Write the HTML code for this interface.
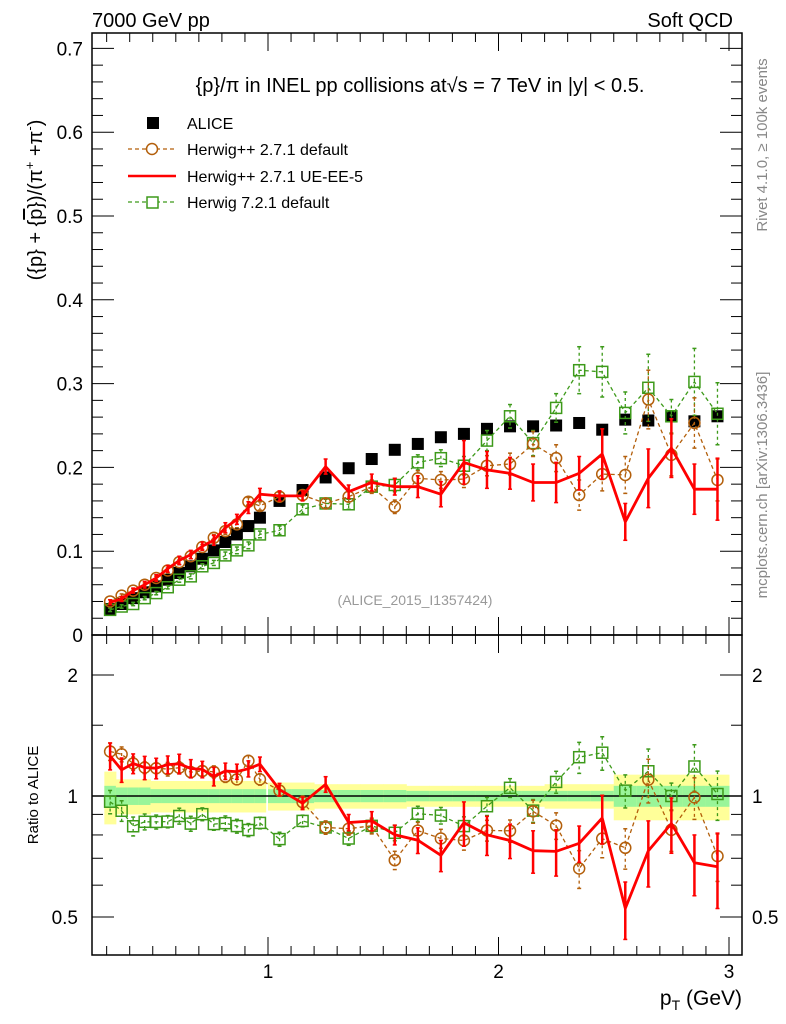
<!DOCTYPE html>
<html><head><meta charset="utf-8">
<style>
html,body{margin:0;padding:0;background:#fff;}
svg{display:block;font-family:"Liberation Sans",sans-serif;}
</style></head>
<body>
<svg id="chart" width="786" height="1024" viewBox="0 0 786 1024" xmlns="http://www.w3.org/2000/svg">
<text x="92" y="27" font-size="20">7000 GeV pp</text>
<text x="733" y="27" font-size="20" text-anchor="end">Soft QCD</text>
<text x="420" y="92" font-size="20" text-anchor="middle">{p}/π in INEL pp collisions at√s =  7 TeV in |y| &lt; 0.5.</text>
<text x="415" y="605" font-size="14" fill="#999" text-anchor="middle">(ALICE_2015_I1357424)</text>
<text transform="translate(767,145) rotate(-90)" font-size="15" fill="#888" text-anchor="middle">Rivet 4.1.0, ≥ 100k events</text>
<text transform="translate(767,485) rotate(-90)" font-size="15" fill="#888" text-anchor="middle">mcplots.cern.ch [arXiv:1306.3436]</text>
<text transform="translate(42,200) rotate(-90)" font-size="20" text-anchor="middle">({p} + {<tspan text-decoration="overline">p</tspan>})/(π<tspan font-size="13" dy="-8">+</tspan><tspan dy="8"> +π</tspan><tspan font-size="13" dy="-8">-</tspan><tspan dy="8">)</tspan></text>
<text transform="translate(38,795) rotate(-90)" font-size="15" text-anchor="middle">Ratio to ALICE</text>
<text x="742" y="1005" font-size="21" text-anchor="end">p<tspan font-size="14" dy="5">T</tspan><tspan dy="-5"> (GeV)</tspan></text>
<g id="legend">
 <g><rect x="147" y="117" width="12" height="12" fill="#000"/><text x="187" y="129" font-size="16">ALICE</text></g>
 <g><line x1="128" y1="149" x2="176" y2="149" stroke="#b35f0b" stroke-width="1.3" stroke-dasharray="4,3"/><circle cx="152" cy="149" r="5.5" fill="#fff" stroke="#b35f0b" stroke-width="1.5"/><text x="187" y="155" font-size="16">Herwig++ 2.7.1 default</text></g>
 <g><line x1="128" y1="176" x2="176" y2="176" stroke="#f00" stroke-width="2.5"/><text x="187" y="182" font-size="16">Herwig++ 2.7.1 UE-EE-5</text></g>
 <g><line x1="128" y1="202" x2="176" y2="202" stroke="#3d9a1a" stroke-width="1.3" stroke-dasharray="4,3"/><rect x="147" y="197" width="11" height="11" fill="#fff" stroke="#3d9a1a" stroke-width="1.5"/><text x="187" y="208" font-size="16">Herwig 7.2.1 default</text></g>
</g>
<g id="plots"></g>
</svg>
<script>
const xs=[0.315,0.365,0.415,0.465,0.515,0.565,0.615,0.665,0.715,0.765,0.815,0.865,0.915,0.965,1.05,1.15,1.25,1.35,1.45,1.55,1.65,1.75,1.85,1.95,2.05,2.15,2.25,2.35,2.45,2.55,2.65,2.75,2.85,2.95];
const alice=[0.031,0.037,0.044,0.051,0.058,0.066,0.074,0.082,0.091,0.101,0.111,0.120,0.130,0.140,0.160,0.173,0.188,0.199,0.210,0.221,0.228,0.236,0.240,0.246,0.249,0.249,0.250,0.253,0.245,0.257,0.256,0.261,0.255,0.261];
const aliceBandOuter=[0.15,0.10,0.10,0.10,0.09,0.09,0.09,0.09,0.09,0.09,0.09,0.09,0.09,0.09,0.08,0.08,0.07,0.07,0.07,0.07,0.06,0.06,0.06,0.06,0.06,0.06,0.07,0.07,0.07,0.13,0.13,0.13,0.13,0.13];
const aliceBandInner=[0.06,0.05,0.05,0.05,0.04,0.04,0.04,0.04,0.04,0.04,0.04,0.04,0.04,0.04,0.04,0.04,0.035,0.035,0.035,0.035,0.03,0.03,0.03,0.03,0.03,0.03,0.03,0.03,0.03,0.06,0.06,0.06,0.06,0.06];
const hppDef=[0.040,0.047,0.053,0.060,0.068,0.077,0.087,0.094,0.105,0.116,0.124,0.132,0.159,0.154,0.165,0.167,0.157,0.165,0.177,0.153,0.187,0.185,0.186,0.202,0.204,0.228,0.211,0.167,0.192,0.191,0.281,0.215,0.253,0.185];
const hppDefErr=[0.002,0.002,0.002,0.002,0.002,0.003,0.003,0.003,0.003,0.004,0.004,0.004,0.005,0.005,0.005,0.006,0.006,0.006,0.008,0.008,0.009,0.01,0.01,0.012,0.013,0.015,0.016,0.018,0.02,0.022,0.035,0.025,0.03,0.025];
const hppUE=[0.039,0.043,0.053,0.060,0.068,0.079,0.089,0.096,0.106,0.113,0.128,0.138,0.152,0.168,0.166,0.166,0.201,0.171,0.182,0.177,0.177,0.168,0.206,0.197,0.193,0.182,0.182,0.193,0.216,0.135,0.187,0.223,0.174,0.174];
const hppUEErr=[0.003,0.003,0.003,0.004,0.004,0.004,0.005,0.005,0.005,0.006,0.006,0.006,0.007,0.007,0.006,0.006,0.009,0.008,0.01,0.01,0.013,0.015,0.026,0.022,0.019,0.022,0.024,0.02,0.03,0.022,0.035,0.035,0.03,0.037];
const h7Def=[0.030,0.034,0.037,0.044,0.050,0.057,0.066,0.070,0.082,0.086,0.095,0.101,0.107,0.120,0.125,0.150,0.157,0.156,0.177,0.179,0.206,0.211,0.202,0.232,0.261,0.229,0.271,0.316,0.314,0.265,0.295,0.261,0.302,0.264];
const h7DefErr=[0.002,0.002,0.002,0.002,0.002,0.002,0.003,0.003,0.003,0.003,0.004,0.004,0.004,0.004,0.005,0.005,0.005,0.006,0.007,0.008,0.009,0.01,0.011,0.012,0.014,0.015,0.017,0.028,0.03,0.025,0.04,0.02,0.04,0.037];
const xTicks=[1,2,3];
const yTicks=[0,0.1,0.2,0.3,0.4,0.5,0.6,0.7];
const rTicks=[0.5,1,2];
</script>
<script>
const NS="http://www.w3.org/2000/svg";
const L=92,R=742,T=33,MB=635,RB=955;
const X=v=>268+(v-1)*230.5;
const Y=v=>635-v*838;
const RY=r=>796-Math.log2(r)*121;
const g=document.getElementById('plots');
function mk(tag,at,parent){const e=document.createElementNS(NS,tag);for(const k in at)e.setAttribute(k,at[k]);(parent||g).appendChild(e);return e;}
const clipM=mk('clipPath',{id:'cm'});mk('rect',{x:L,y:T,width:R-L,height:MB-T},clipM);
const clipR=mk('clipPath',{id:'cr'});mk('rect',{x:L,y:MB,width:R-L,height:RB-MB},clipR);
const lo=i=>i<14?xs[i]-0.025:xs[i]-0.05, hi=i=>i<14?xs[i]+0.025:xs[i]+0.05;
const bandG=mk('g',{'clip-path':'url(#cr)'});


xs.forEach((x,i)=>{
 const o=aliceBandOuter[i],n=aliceBandInner[i];
 mk('rect',{x:X(lo(i)),y:RY(1+o),width:X(hi(i))-X(lo(i))+0.5,height:RY(1-o)-RY(1+o),fill:'#ffff99'},bandG);
 mk('rect',{x:X(lo(i)),y:RY(1+n),width:X(hi(i))-X(lo(i))+0.5,height:RY(1-n)-RY(1+n),fill:'#99f599'},bandG);
});
mk('line',{x1:L,x2:R,y1:RY(1),y2:RY(1),stroke:'#000','stroke-width':1.5});
const fr1=mk('rect',{x:L,y:T,width:R-L,height:MB-T,fill:'none',stroke:'#000','stroke-width':1.5});


const fr2=mk('rect',{x:L,y:MB,width:R-L,height:RB-MB,fill:'none',stroke:'#000','stroke-width':1.5});


for(let k=3;k<=30;k++){const v=k/10,px=X(v);if(px<L||px>R)continue;const maj=k%10===0;const len=maj?18:9;
 [[MB,-1],[T,1],[RB,-1],[MB,1]].forEach(([y0,d])=>mk('line',{x1:px,x2:px,y1:y0,y2:y0+d*len,stroke:'#000','stroke-width':1}));}
xTicks.forEach(v=>{const t=mk('text',{x:X(v),y:978,'font-size':19,'text-anchor':'middle'});t.textContent=v;
 
 });
for(let k=0;k<=35;k++){const v=k*0.02,py=Y(v);if(py<T)continue;const maj=k%5===0;const len=maj?22:11;
 mk('line',{x1:L,x2:L+len,y1:py,y2:py,stroke:'#000'});mk('line',{x1:R,x2:R-len,y1:py,y2:py,stroke:'#000'});}
yTicks.forEach(v=>{const t=mk('text',{x:83,y:Y(v)+7,'font-size':19,'text-anchor':'end'});t.textContent=v===0?'0':v.toFixed(1);
 
 });
[0.5,0.6,0.7,0.8,0.9,1,1.5,2].forEach(v=>{const py=RY(v);const maj=rTicks.includes(v);const len=maj?22:11;
 mk('line',{x1:L,x2:L+len,y1:py,y2:py,stroke:'#000'});mk('line',{x1:R,x2:R-len,y1:py,y2:py,stroke:'#000'});});
rTicks.forEach(v=>{const t=mk('text',{x:78,y:RY(v)+7,'font-size':19,'text-anchor':'end'});t.textContent=v;
 
 
 const t2=mk('text',{x:752,y:RY(v)+7,'font-size':19});t2.textContent=v;
 
 });
function series(vals,errs,color,dash,width,marker,name){
 [[Y,'cm',false],[RY,'cr',true]].forEach(([YF,clip,ratio])=>{
  const grp=mk('g',{'clip-path':`url(#${clip})`});
  
  
  const val=i=>ratio?vals[i]/alice[i]:vals[i];
  const er=i=>ratio?errs[i]/alice[i]:errs[i];
  const pts=xs.map((x,i)=>X(x).toFixed(1)+','+YF(val(i)).toFixed(1)).join(' ');
  const pl=mk('polyline',{points:pts,fill:'none',stroke:color,'stroke-width':width},grp);
  if(dash)pl.setAttribute('stroke-dasharray',dash);
  xs.forEach((x,i)=>{const px=X(x),a=YF(val(i)+er(i)),b=YF(val(i)-er(i));
   const eb=mk('line',{x1:px,x2:px,y1:a,y2:b,stroke:color,'stroke-width':marker?1.3:2.5},grp);
   if(dash)eb.setAttribute('stroke-dasharray','3,3');
   mk('line',{x1:px-2,x2:px+2,y1:a,y2:a,stroke:color,'stroke-width':1.5},grp);
   mk('line',{x1:px-2,x2:px+2,y1:b,y2:b,stroke:color,'stroke-width':1.5},grp);
   const py=YF(val(i));
   let m=null;
   if(marker==='circle')m=mk('circle',{cx:px,cy:py,r:5.5,fill:'none',stroke:color,'stroke-width':1.5},grp);
   if(marker==='square')m=mk('rect',{x:px-5.5,y:py-5.5,width:11,height:11,fill:'none',stroke:color,'stroke-width':1.5},grp);
   if(m){}
  });
 });
}
const ag=mk('g',{'clip-path':'url(#cm)'});


xs.forEach((x,i)=>{const r=mk('rect',{x:X(x)-6,y:Y(alice[i])-6,width:12,height:12,fill:'#000'},ag);
 
 });
series(h7Def,h7DefErr,'#3d9a1a','4,3',1.3,'square','herwig7-default');
series(hppDef,hppDefErr,'#b35f0b','4,3',1.3,'circle','herwigpp-default');
series(hppUE,hppUEErr,'#ff0000',null,2.8,null,'herwigpp-ueee5');
</script>
</body></html>
